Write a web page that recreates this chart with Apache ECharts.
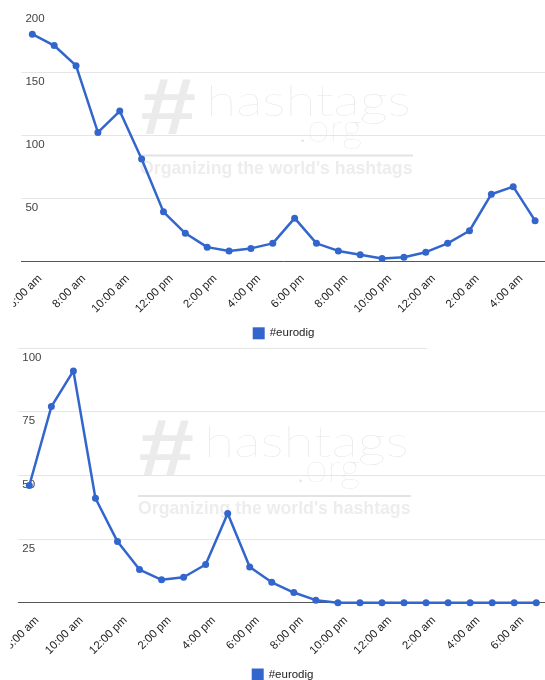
<!DOCTYPE html>
<html>
<head>
<meta charset="utf-8">
<script src="https://cdn.jsdelivr.net/npm/echarts@6/dist/echarts.min.js"></script>
<style>
html,body{margin:0;padding:0;background:#fff;}
#c{width:545px;height:680px;}
</style>
</head>
<body>
<div id="c"></div>
<script>
var seriesName = '#eurodig';
var hours1 = ['6:00 am','7:00 am','8:00 am','9:00 am','10:00 am','11:00 am','12:00 pm','1:00 pm','2:00 pm','3:00 pm','4:00 pm','5:00 pm','6:00 pm','7:00 pm','8:00 pm','9:00 pm','10:00 pm','11:00 pm','12:00 am','1:00 am','2:00 am','3:00 am','4:00 am','5:00 am'];
var values1 = [180, 171, 155, 102, 119, 81, 39, 22, 11, 8, 10, 14, 34, 14, 8, 5, 2, 3, 7, 14, 24, 53, 59, 32];
var hours2 = ['8:00 am','9:00 am','10:00 am','11:00 am','12:00 pm','1:00 pm','2:00 pm','3:00 pm','4:00 pm','5:00 pm','6:00 pm','7:00 pm','8:00 pm','9:00 pm','10:00 pm','11:00 pm','12:00 am','1:00 am','2:00 am','3:00 am','4:00 am','5:00 am','6:00 am','7:00 am'];
var values2 = [46, 77, 91, 41, 24, 13, 9, 10, 15, 35, 14, 8, 4, 1, 0, 0, 0, 0, 0, 0, 0, 0, 0, 0];
var yTicks1 = {min: 0, max: 200, interval: 50};
var yTicks2 = {min: 0, max: 100, interval: 25};

var chart = echarts.init(document.getElementById('c'));
var FONT = '"Liberation Sans", Arial, sans-serif';
var BLUE = '#3366cc';

function xAxisOpt(gi, cats) {
  return {
    type: 'category', gridIndex: gi, data: cats, boundaryGap: true,
    axisLine: {show: true, lineStyle: {color: '#555', width: 1}},
    axisTick: {show: false},
    axisLabel: {
      interval: 1, rotate: 45, margin: 8, fontSize: 11.5, color: '#222',
      fontFamily: FONT, verticalAlign: 'top', lineHeight: 22
    },
    splitLine: {show: false}
  };
}
function yAxisOpt(gi, t, colors) {
  return {
    type: 'value', gridIndex: gi, min: t.min, max: t.max, interval: t.interval,
    axisLine: {show: false}, axisTick: {show: false},
    axisLabel: {
      inside: true, showMinLabel: false, margin: 4, fontSize: 11.5, color: '#444',
      fontFamily: FONT, verticalAlign: 'top', lineHeight: 19, align: 'left'
    },
    splitLine: {show: true, lineStyle: {color: colors, width: 1}}
  };
}
function wm(dx, dy) {
  var c = '#ebebeb';
  return [
    {type: 'text', z: 1, silent: true, scaleX: 1.25, x: 139 + dx, y: 0, style: {x: 0, y: 152 + dy, text: '#', font: 'italic bold 80px "Liberation Sans", Arial', fill: c, textVerticalAlign: 'bottom'}},
    {type: 'text', z: 1, silent: true, scaleX: 1.26, x: 206 + dx, y: 0, style: {x: 0, y: 124 + dy, text: 'hashtags', font: '100 44px Lato, Roboto, sans-serif', fill: '#e6e6e6', textVerticalAlign: 'bottom'}},
    {type: 'text', z: 1, silent: true, style: {x: 298 + dx, y: 149 + dy, text: '.org', font: '100 40px Lato, Roboto, sans-serif', fill: '#e6e6e6', textVerticalAlign: 'bottom'}},
    {type: 'line', z: 1, silent: true, shape: {x1: 140 + dx, y1: 155.5 + dy, x2: 413 + dx, y2: 155.5 + dy}, style: {stroke: '#e3e3e3', lineWidth: 2}},
    {type: 'text', z: 1, silent: true, style: {x: 140 + dx, y: 169 + dy, text: "Organizing the world's hashtags", font: 'bold 17.7px "Liberation Sans", Arial', fill: '#ededed', textVerticalAlign: 'middle'}}
  ];
}

var option = {
  backgroundColor: '#fff',
  animation: false,
  grid: [
    {left: 21.4, top: 9, width: 524.6, height: 252, containLabel: false, outerBoundsMode: 'none'},
    {left: 18.3, top: 348, width: 529, height: 254.7, containLabel: false, outerBoundsMode: 'none'}
  ],
  xAxis: [xAxisOpt(0, hours1), xAxisOpt(1, hours2)],
  yAxis: [
    yAxisOpt(0, yTicks1, ['#e5e5e5', '#e5e5e5', '#e5e5e5', '#e5e5e5', 'rgba(0,0,0,0)']),
    yAxisOpt(1, yTicks2, ['#e5e5e5'])
  ],
  legend: [
    {data: [seriesName], left: 252.7, top: 327.3, padding: 0, icon: 'rect', itemWidth: 12, itemHeight: 12,
     textStyle: {fontSize: 11.5, color: '#222', fontFamily: FONT}},
    {data: [seriesName], left: 251.7, top: 668.5, padding: 0, icon: 'rect', itemWidth: 12, itemHeight: 12,
     textStyle: {fontSize: 11.5, color: '#222', fontFamily: FONT}}
  ],
  graphic: wm(0, 0).concat(wm(-2, 340.5)).concat([
    {type: 'rect', z: 100, silent: true, shape: {x: 427, y: 344, width: 120, height: 8}, style: {fill: '#fff'}},
    {type: 'rect', z: 100, silent: true, shape: {x: 0, y: 263, width: 13.5, height: 55}, style: {fill: '#fff'}},
    {type: 'rect', z: 100, silent: true, shape: {x: 0, y: 605, width: 10.5, height: 55}, style: {fill: '#fff'}}
  ]),
  series: [
    {name: seriesName, type: 'line', xAxisIndex: 0, yAxisIndex: 0, data: values1,
     symbol: 'circle', symbolSize: 7, itemStyle: {color: BLUE}, lineStyle: {color: BLUE, width: 2.5}, z: 3},
    {name: seriesName, type: 'line', xAxisIndex: 1, yAxisIndex: 1, data: values2,
     symbol: 'circle', symbolSize: 7, itemStyle: {color: BLUE}, lineStyle: {color: BLUE, width: 2.5}, z: 3}
  ]
};
chart.setOption(option);
</script>
</body>
</html>
